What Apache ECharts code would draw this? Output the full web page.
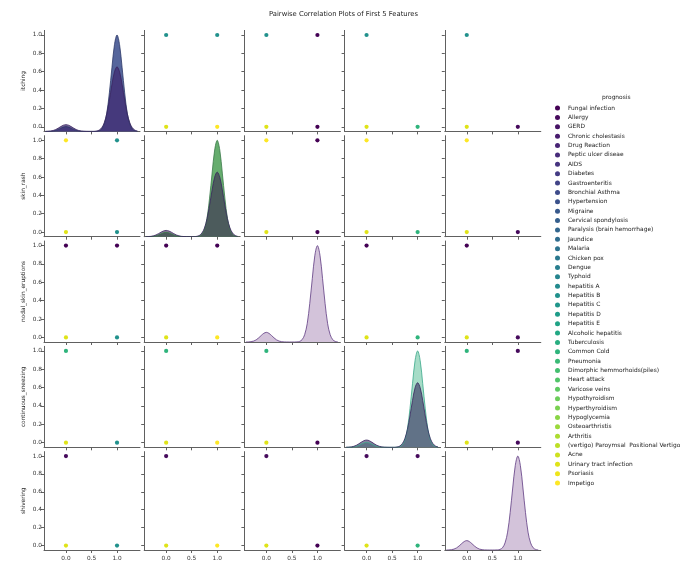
<!DOCTYPE html>
<html><head><meta charset="utf-8">
<script src="https://cdn.jsdelivr.net/npm/echarts@6/dist/echarts.min.js"></script>
<style>html,body{margin:0;padding:0;background:#fff}#c{width:687px;height:561px}</style>
</head><body><div id="c"></div>
<script>
// ---------------- data ----------------
const features = ['itching', 'skin_rash', 'nodal_skin_eruptions', 'continuous_sneezing', 'shivering'];
const categories = ['Fungal infection', 'Allergy', 'GERD', 'Chronic cholestasis', 'Drug Reaction',
  'Peptic ulcer diseae', 'AIDS', 'Diabetes', 'Gastroenteritis', 'Bronchial Asthma', 'Hypertension',
  'Migraine', 'Cervical spondylosis', 'Paralysis (brain hemorrhage)', 'Jaundice', 'Malaria',
  'Chicken pox', 'Dengue', 'Typhoid', 'hepatitis A', 'Hepatitis B', 'Hepatitis C', 'Hepatitis D',
  'Hepatitis E', 'Alcoholic hepatitis', 'Tuberculosis', 'Common Cold', 'Pneumonia',
  'Dimorphic hemmorhoids(piles)', 'Heart attack', 'Varicose veins', 'Hypothyroidism',
  'Hyperthyroidism', 'Hypoglycemia', 'Osteoarthristis', 'Arthritis',
  '(vertigo) Paroymsal  Positional Vertigo', 'Acne', 'Urinary tract infection', 'Psoriasis', 'Impetigo'];
const yTickValues = [0, 0.2, 0.4, 0.6, 0.8, 1.0];
const xTickValues = [0, 0.5, 1.0];
// [row, col, x, y, categoryIndex]  (last category drawn at each spot)
const scatterPoints = [
  [0,1,0,1,20],[0,1,1,1,20],[0,1,0,0,38],[0,1,1,0,40],
  [0,2,0,1,20],[0,2,1,1,0],[0,2,0,0,38],[0,2,1,0,0],
  [0,3,0,1,20],[0,3,0,0,38],[0,3,1,0,26],
  [0,4,0,1,20],[0,4,0,0,38],[0,4,1,0,1],
  [1,0,0,1,40],[1,0,1,1,20],[1,0,0,0,38],[1,0,1,0,20],
  [1,2,0,1,40],[1,2,1,1,0],[1,2,0,0,38],[1,2,1,0,0],
  [1,3,0,1,40],[1,3,0,0,38],[1,3,1,0,26],
  [1,4,0,1,40],[1,4,0,0,38],[1,4,1,0,1],
  [2,0,0,1,0],[2,0,1,1,0],[2,0,0,0,38],[2,0,1,0,20],
  [2,1,0,1,0],[2,1,1,1,0],[2,1,0,0,38],[2,1,1,0,40],
  [2,3,0,1,0],[2,3,0,0,38],[2,3,1,0,26],
  [2,4,0,1,0],[2,4,0,0,38],[2,4,1,0,1],
  [3,0,0,1,26],[3,0,0,0,38],[3,0,1,0,20],
  [3,1,0,1,26],[3,1,0,0,38],[3,1,1,0,40],
  [3,2,0,1,26],[3,2,0,0,38],[3,2,1,0,0],
  [3,4,0,1,26],[3,4,1,1,1],[3,4,0,0,38],[3,4,1,0,1],
  [4,0,0,1,1],[4,0,0,0,38],[4,0,1,0,20],
  [4,1,0,1,1],[4,1,0,0,38],[4,1,1,0,40],
  [4,2,0,1,1],[4,2,0,0,38],[4,2,1,0,0],
  [4,3,0,1,1],[4,3,1,1,1],[4,3,0,0,38],[4,3,1,0,26]
];
// KDE curves on the diagonal (heights relative to tallest peak)
const kdeX = [-0.4,-0.35,-0.3,-0.25,-0.2,-0.15,-0.1,-0.05,0,0.05,0.1,0.15,0.2,0.25,0.3,0.35,0.4,
  0.45,0.5,0.55,0.6,0.65,0.7,0.75,0.8,0.85,0.9,0.95,1,1.05,1.1,1.15,1.2,1.25,1.3,1.35,1.4];
const kdeItchingNarrow = [0,.0003,.0012,.0038,.0095,.02,.033,.045,.05,.045,.033,.02,.0095,.0038,.0012,.0003,0,
  0,0,0,.001,.006,.024,.076,.19,.40,.66,.90,1,.90,.66,.40,.19,.076,.024,.006,.001];
const kdeItchingWide = [.0004,.0014,.0039,.0095,.0195,.0341,.0508,.0646,.07,.0646,.0508,.0341,.0195,.0095,.0039,.0014,.0004,
  0,0,0,.004,.013,.038,.090,.186,.326,.486,.618,.67,.618,.486,.326,.186,.090,.038,.013,.004];
const kdeSkinNarrow = [0,.0003,.0011,.0034,.0086,.018,.0297,.0405,.045,.0405,.0297,.018,.0086,.0034,.0011,.0003,0,
  0,0,0,.001,.006,.024,.076,.19,.40,.66,.90,1,.90,.66,.40,.19,.076,.024,.006,.001];
const kdeSkinWide = [.0004,.0013,.0036,.0088,.0181,.0317,.0472,.06,.065,.06,.0472,.0317,.0181,.0088,.0036,.0013,.0004,
  0,0,0,.004,.013,.038,.090,.186,.326,.486,.618,.67,.618,.486,.326,.186,.090,.038,.013,.004];
const kdeNodal = [.0002,.001,.0035,.0095,.022,.043,.068,.09,.1,.09,.068,.043,.022,.0095,.0035,.001,.0002,
  0,0,0,.001,.006,.024,.076,.19,.40,.66,.90,1,.90,.66,.40,.19,.076,.024,.006,.001];
const kdeSneezingNarrow = [0,.0003,.0012,.0038,.0095,.02,.033,.045,.05,.045,.033,.02,.0095,.0038,.0012,.0003,0,
  0,0,0,.001,.006,.024,.076,.19,.40,.66,.90,1,.90,.66,.40,.19,.076,.024,.006,.001];
const kdeSneezingWide = [.0005,.0015,.0042,.0101,.0209,.0365,.0545,.0692,.075,.0692,.0545,.0365,.0209,.0101,.0042,.0015,.0005,
  0,0,0,.004,.013,.038,.090,.186,.326,.486,.618,.67,.618,.486,.326,.186,.090,.038,.013,.004];
const kdeShivering = [.0002,.001,.0035,.0095,.022,.043,.068,.09,.1,.09,.068,.043,.022,.0095,.0035,.001,.0002,
  0,0,0,.001,.006,.024,.076,.19,.40,.66,.90,1,.90,.66,.40,.19,.076,.024,.006,.001];

// ---------------- styles ----------------
const viridis = ['#440154','#460a5c','#471365','#481c6e','#482475','#472c7a','#463480','#443c84','#414487','#3e4b8a',
  '#3b528b','#38598c','#355f8d','#32668e','#2f6c8e','#2c728e','#2a788e','#287e8e','#25848e','#238a8d',
  '#21918c','#20968b','#1e9c89','#20a386','#22a884','#28ae80','#2fb47c','#3aba76','#44bf70','#51c469',
  '#5ec962','#6ccd5a','#7ad151','#8ad546','#9bd93c','#acdc30','#bddf26','#cee11f','#dfe318','#eee51b','#fde725'];
const diagLayers = [
  [{v: kdeItchingNarrow, fill: '#56669c', line: '#2c3868'}, {v: kdeItchingWide, fill: 'rgba(62,40,112,0.72)', line: '#3a2460'}],
  [{v: kdeSkinNarrow, fill: '#66ad6e', line: '#3b7a4a'}, {v: kdeSkinWide, fill: 'rgba(60,40,80,0.62)', line: '#3a2460'}],
  [{v: kdeNodal, fill: '#d3c3da', line: '#5e3a82'}],
  [{v: kdeSneezingNarrow, fill: '#a6dcc7', line: '#3aa88a'}, {v: kdeSneezingWide, fill: 'rgba(52,44,92,0.6)', line: '#3a2460'}],
  [{v: kdeShivering, fill: '#d3c3da', line: '#5e3a82'}]
];
const FONT = 'DejaVu Sans';
const AX = '#606060';
const cellLeft = 44, cellStepX = 100.2, cellW = 96;
const cellTop = 30.4, cellStepY = 105.3, cellH = 101;

const grids = [], xAxes = [], yAxes = [], series = [];
for (let r = 0; r < 5; r++) {
  for (let c = 0; c < 5; c++) {
    const g = grids.length;
    grids.push({left: cellLeft + cellStepX * c, top: cellTop + cellStepY * r, width: cellW, height: cellH, containLabel: false});
    xAxes.push({
      type: 'value', gridIndex: g, min: -0.43, max: 1.45,
      axisLine: {show: true, onZero: false, lineStyle: {color: AX, width: 1}},
      axisTick: {show: true, length: 3, lineStyle: {color: AX}, customValues: xTickValues},
      axisLabel: {show: r === 4, customValues: xTickValues, formatter: v => v.toFixed(1), fontSize: 5.8, fontFamily: FONT, color: '#333', margin: 5},
      splitLine: {show: false}
    });
    const yIdx = yAxes.length;
    yAxes.push({
      type: 'value', gridIndex: g, min: -0.05, max: 1.05,
      axisLine: {show: true, onZero: false, lineStyle: {color: AX, width: 1}},
      axisTick: {show: true, length: 3, lineStyle: {color: AX}, customValues: yTickValues},
      axisLabel: {show: c === 0, customValues: yTickValues, formatter: v => v.toFixed(1), fontSize: 5.8, fontFamily: FONT, color: '#333', margin: 2},
      splitLine: {show: false},
      name: c === 0 ? features[r] : '', nameLocation: 'middle', nameGap: 18, nameRotate: 90,
      nameTextStyle: {fontSize: 5.8, fontFamily: FONT, color: '#222'}
    });
    if (r === c) {
      const kIdx = yAxes.length;
      yAxes.push({type: 'value', gridIndex: g, min: 0, max: 1.048, show: false, splitLine: {show: false}});
      diagLayers[r].forEach(layer => {
        series.push({
          type: 'line', xAxisIndex: g, yAxisIndex: kIdx, smooth: 0.35, showSymbol: false, silent: true,
          data: kdeX.map((x, i) => [x, layer.v[i]]),
          lineStyle: {color: layer.line, width: 0.8},
          areaStyle: {color: layer.fill, opacity: 1}
        });
      });
    } else {
      const pts = scatterPoints.filter(p => p[0] === r && p[1] === c);
      pts.forEach(p => {
        series.push({
          type: 'scatter', name: categories[p[4]], xAxisIndex: g, yAxisIndex: yIdx,
          symbolSize: 4.2, data: [[p[2], p[3]]],
          itemStyle: {color: viridis[p[4]], opacity: 1}
        });
      });
    }
  }
}
// legend entries
categories.forEach((name, i) => {
  series.push({type: 'scatter', name, data: [], xAxisIndex: 0, yAxisIndex: 0, itemStyle: {color: viridis[i], opacity: 1}});
});

const chart = echarts.init(document.getElementById('c'), null, {renderer: 'canvas'});
chart.setOption({
  animation: false,
  backgroundColor: '#fff',
  title: [
    {text: 'Pairwise Correlation Plots of First 5 Features', left: 'center', top: 11, padding: 0,
     textStyle: {fontSize: 6.8, fontWeight: 'normal', fontFamily: FONT, color: '#222'}},
    {text: 'prognosis', left: 602, top: 94, padding: 0,
     textStyle: {fontSize: 5.9, fontWeight: 'normal', fontFamily: FONT, color: '#222'}}
  ],
  legend: {
    data: categories, orient: 'vertical', left: 555, top: 104.5, padding: 0,
    itemWidth: 5, itemHeight: 5, itemGap: 2.375, icon: 'circle',
    itemStyle: {borderWidth: 0, opacity: 1},
    textStyle: {fontSize: 5.9, lineHeight: 7, fontFamily: FONT, color: '#222', padding: [0, 0, 0, 3]}
  },
  grid: grids, xAxis: xAxes, yAxis: yAxes, series
});
</script></body></html>
